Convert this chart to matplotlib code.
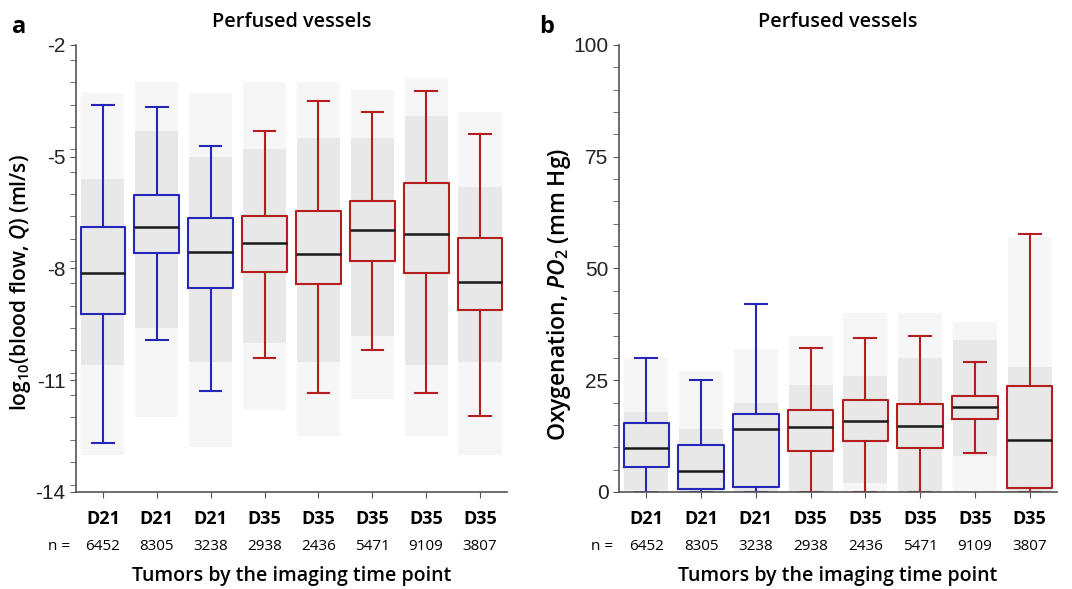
import matplotlib
matplotlib.use("Agg")
import matplotlib.pyplot as plt
import numpy as np
from matplotlib.ticker import MultipleLocator

# groups
groups = ["D21", "D21", "D21", "D35", "D35", "D35", "D35", "D35"]
n_vals = ["6452", "8305", "3238", "2938", "2436", "5471", "9109", "3807"]
day21 = "#2626b8"
day35 = "#b41e1e"

# panel a: log10 blood flow box stats
flow_whislo = [-12.68, -9.91, -11.29, -10.39, -11.35, -10.20, -11.35, -11.97]
flow_q1 = [-9.22, -7.59, -8.52, -8.10, -8.42, -7.80, -8.11, -9.11]
flow_med = [-8.11, -6.89, -7.57, -7.32, -7.60, -6.97, -7.08, -8.37]
flow_q3 = [-6.90, -6.03, -6.65, -6.58, -6.47, -6.18, -5.70, -7.19]
flow_whishi = [-3.61, -3.66, -4.71, -4.31, -3.50, -3.79, -3.23, -4.38]
# point clouds behind the boxes (full extent and dense core)
flow_cloud = [(-13.0, -3.3), (-12.0, -3.0), (-12.8, -3.3), (-11.8, -3.0),
              (-12.5, -3.0), (-11.5, -3.2), (-12.5, -2.9), (-13.0, -3.8)]
flow_core = [(-10.6, -5.6), (-9.6, -4.3), (-10.5, -5.0), (-10.0, -4.8),
             (-10.5, -4.5), (-9.8, -4.5), (-10.6, -3.9), (-10.5, -5.8)]

# panel b: oxygenation box stats
po2_whislo = [0, 0, 0, 0, 0, 0, 8.7, 0]
po2_q1 = [5.5, 0.7, 1.2, 9.2, 11.3, 9.8, 16.3, 1.0]
po2_med = [9.8, 4.8, 14.1, 14.5, 15.9, 14.7, 18.9, 11.6]
po2_q3 = [15.4, 10.5, 17.4, 18.3, 20.5, 19.7, 21.5, 23.7]
po2_whishi = [29.9, 25.1, 42.1, 32.1, 34.5, 34.9, 29.0, 57.6]
po2_cloud = [(0, 30), (0, 27), (0, 32), (0, 35), (0, 40), (0, 40), (0, 38), (0, 57)]
po2_core = [(0.5, 18), (0, 14), (0, 20), (0, 24), (2, 26), (0, 30), (8, 34), (0, 28)]

plt.rcParams['font.family'] = ['Open Sans', 'DejaVu Sans']
plt.rcParams['mathtext.fontset'] = 'custom'
plt.rcParams['mathtext.rm'] = 'Open Sans:semibold'
plt.rcParams['mathtext.it'] = 'Open Sans:semibold:italic'

fig = plt.figure(figsize=(10.72, 5.89), dpi=100)
ax_a = fig.add_axes([0.0709, 0.1647, 0.402, 0.759])
ax_b = fig.add_axes([0.5774, 0.1647, 0.4086, 0.759])

pos = np.arange(1, len(groups) + 1)
colors = [day21 if g == "D21" else day35 for g in groups]


def draw_panel(ax, lo, q1, med, q3, hi, cloud, core):
    c_lo = np.array([c[0] for c in cloud])
    c_hi = np.array([c[1] for c in cloud])
    k_lo = np.array([c[0] for c in core])
    k_hi = np.array([c[1] for c in core])
    ax.bar(pos, c_hi - c_lo, bottom=c_lo, width=0.8, color="#f6f6f6", zorder=1)
    ax.bar(pos, k_hi - k_lo, bottom=k_lo, width=0.8, color="#e8e8e8", zorder=1)
    for i in range(len(pos)):
        st = [dict(whislo=lo[i], q1=q1[i], med=med[i], q3=q3[i], whishi=hi[i], fliers=[])]
        lp = dict(color=colors[i], linewidth=1.5)
        ax.bxp(st, positions=[pos[i]], widths=0.83, capwidths=0.4, showfliers=False,
               boxprops=lp, whiskerprops=lp, capprops=lp,
               medianprops=dict(color="#1a1a1a", linewidth=1.8), manage_ticks=False)
    ax.set_xlim(0.5, 8.5)
    ax.set_xticks(pos)
    ax.set_xticklabels(groups, fontsize=13, fontweight="bold")
    for s in ["top", "right"]:
        ax.spines[s].set_visible(False)
    for s in ["left", "bottom"]:
        ax.spines[s].set_color("#555555")
        ax.spines[s].set_linewidth(1.2)
    ax.tick_params(axis="x", length=4, color="#555555", pad=9)
    ax.tick_params(axis="y", which="both", length=4, color="#555555", labelsize=15)
    tr = ax.get_xaxis_transform()
    ax.text(0.4, -0.123, "n =", transform=tr, ha="right", va="center", fontsize=11)
    for p, n in zip(pos, n_vals):
        ax.text(p, -0.123, n, transform=tr, ha="center", va="center", fontsize=11)
    ax.text(0.5, -0.188, "Tumors by the imaging time point", transform=ax.transAxes,
            ha="center", va="center", fontsize=14, fontweight="semibold")
    ax.set_title("Perfused vessels", fontsize=14.3, fontweight="semibold", pad=13)


draw_panel(ax_a, flow_whislo, flow_q1, flow_med, flow_q3, flow_whishi, flow_cloud, flow_core)
ax_a.set_ylim(-14, -2)
ax_a.yaxis.set_minor_locator(MultipleLocator(0.6))
ax_a.set_yticks([-14, -11, -8, -5, -2])
ax_a.set_yticklabels(["-14", "-11", "-8", "-5", "-2"], fontfamily="Liberation Sans",
                     fontsize=15, color="#222222")
ax_a.set_ylabel(r"log$_{10}$(blood flow, $\mathit{Q}$) (ml/s)", fontsize=15,
                fontweight="semibold")
ax_a.yaxis.set_label_coords(-0.100, 0.468)

draw_panel(ax_b, po2_whislo, po2_q1, po2_med, po2_q3, po2_whishi, po2_cloud, po2_core)
ax_b.set_ylim(0, 100)
ax_b.yaxis.set_minor_locator(MultipleLocator(5))
ax_b.set_yticks([0, 25, 50, 75, 100])
ax_b.set_yticklabels(["0", "25", "50", "75", "100"], fontfamily="Liberation Sans",
                     fontsize=15, color="#222222")
ax_b.set_ylabel(r"Oxygenation, $\mathit{PO}_2$ (mm Hg)", fontsize=16.5,
                fontweight="semibold")
ax_b.yaxis.set_label_coords(-0.105, 0.443)

fig.text(19 / 1072, 1 - 27 / 589, "a", fontsize=17, fontweight="bold", ha="center", va="center")
fig.text(547 / 1072, 1 - 27 / 589, "b", fontsize=17, fontweight="bold", ha="center", va="center")

fig.savefig("out.png", dpi=100)
